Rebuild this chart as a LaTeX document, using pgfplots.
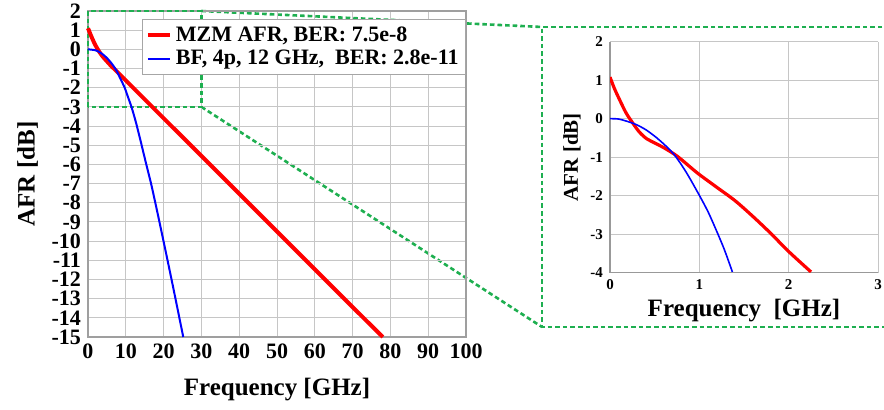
\documentclass[border=0pt]{standalone}
\usepackage{pgfplots}
\pgfplotsset{compat=1.18}
\usepackage{fontspec}
\setmainfont{Liberation Serif}
\definecolor{dgreen}{RGB}{30,175,80}
\tikzset{gdash/.style={dgreen, line width=1.3pt, dash pattern=on 2.3pt off 1.5pt}}
\pgfdeclarelayer{bg}
\pgfsetlayers{bg,main}
\begin{document}
\begin{tikzpicture}
\useasboundingbox (0,0) rectangle (442pt,205pt);
% inset
\begin{axis}[name=inset,
  at={(305pt,68.65pt)}, anchor=south west, scale only axis,
  width=134pt, height=115.5pt,
  xmin=0, xmax=3, ymin=-4, ymax=2,
  xtick={0,1,2,3}, ytick={-4,-3,...,2},
  axis x line=bottom, axis y line=left,
  axis line style={-, gray!80, line width=0.6pt},
  grid=major, grid style={gray!45, line width=0.5pt},
  major tick length=0pt,
  /pgf/number format/assume math mode=true,
  tick label style={font=\bfseries\fontsize{7.5}{8}\selectfont},
  xlabel={Frequency\ \ [GHz]}, ylabel={AFR [dB]},
  xlabel style={font=\bfseries\fontsize{12.5}{14}\selectfont, yshift=2pt},
  ylabel style={font=\bfseries\fontsize{10.5}{12}\selectfont, yshift=-2pt},
]
\addplot[red, line width=1.6pt, smooth] coordinates {(0,1.08) (0.05,0.78) (0.11,0.48) (0.18,0.15) (0.26,-0.13) (0.33,-0.35) (0.41,-0.52) (0.5,-0.63) (0.6,-0.75) (0.75,-0.97) (0.9,-1.26) (1.0,-1.45) (1.2,-1.79) (1.4,-2.13) (1.6,-2.54) (1.8,-2.98) (2.0,-3.45) (2.25,-3.98)};
\addplot[blue, line width=0.8pt, smooth] coordinates {(0,0) (0.1,-0.01) (0.22,-0.09) (0.3,-0.16) (0.41,-0.3) (0.55,-0.55) (0.71,-0.91) (0.85,-1.38) (1.0,-1.99) (1.1,-2.43) (1.19,-2.9) (1.28,-3.4) (1.37,-3.98)};
\end{axis}
% main
\begin{axis}[
  at={(44pt,36.5pt)}, anchor=south west, scale only axis,
  width=189pt, height=163pt, clip=false,
  xmin=0, xmax=100, ymin=-15, ymax=2,
  xtick={0,10,...,100}, ytick={-15,-14,...,2},
  grid=major, grid style={gray!45, line width=0.5pt},
  axis line style={gray!75, line width=0.6pt},
  major tick length=0pt,
  /pgf/number format/assume math mode=true,
  tick label style={font=\bfseries\fontsize{11}{12}\selectfont},
  xlabel={Frequency [GHz]}, ylabel={AFR [dB]},
  label style={font=\bfseries\fontsize{12.5}{14}\selectfont},
  xlabel style={yshift=-3pt},
  legend style={at={(1,1)}, anchor=north east, yshift=-4pt,
    draw=gray!70, fill=white, font=\bfseries\fontsize{11}{12}\selectfont,
    inner sep=1.5pt, row sep=-1pt},
  legend cell align=left,
  legend image code/.code={\draw[#1] (0pt,0pt) -- (11pt,0pt);},
]
\draw[gdash] (axis cs:0,-3) rectangle (axis cs:30,2);
\coordinate (bTR) at (axis cs:30,2);
\coordinate (bBR) at (axis cs:30,-3);
\addplot[red, line width=2pt, smooth] coordinates {(0,1.1) (1,0.62) (2,0.2) (3,-0.13) (4,-0.4) (5,-0.62) (6,-0.84) (7,-1.03) (10,-1.62) (20,-3.59) (30,-5.56) (40,-7.53) (50,-9.5) (60,-11.47) (70,-13.44) (78,-15)};
\addlegendentry{MZM AFR, BER: 7.5e-8}
\addplot[blue, line width=1pt, smooth] coordinates {(0,0) (2,-0.05) (3.5,-0.2) (5,-0.45) (6.5,-0.8) (7.5,-1.1) (8.5,-1.5) (9.7,-2.0) (10.6,-2.5) (11.5,-3) (12.6,-3.75) (13.7,-4.6) (14.8,-5.5) (15.8,-6.3) (16.8,-7.1) (18.9,-9) (22.1,-12) (25.2,-15)};
\addlegendentry{BF, 4p, 12 GHz,\ \ BER: 2.8e-11}
\end{axis}
\begin{pgfonlayer}{bg}
\draw[gdash] (445pt,191.5pt) -- (271pt,191.5pt) -- (271pt,41.5pt) -- (445pt,41.5pt);
\draw[gdash] (bTR) -- (271pt,191.5pt);
\draw[gdash] (bBR) -- (271pt,41.5pt);
\end{pgfonlayer}
\end{tikzpicture}
\end{document}
